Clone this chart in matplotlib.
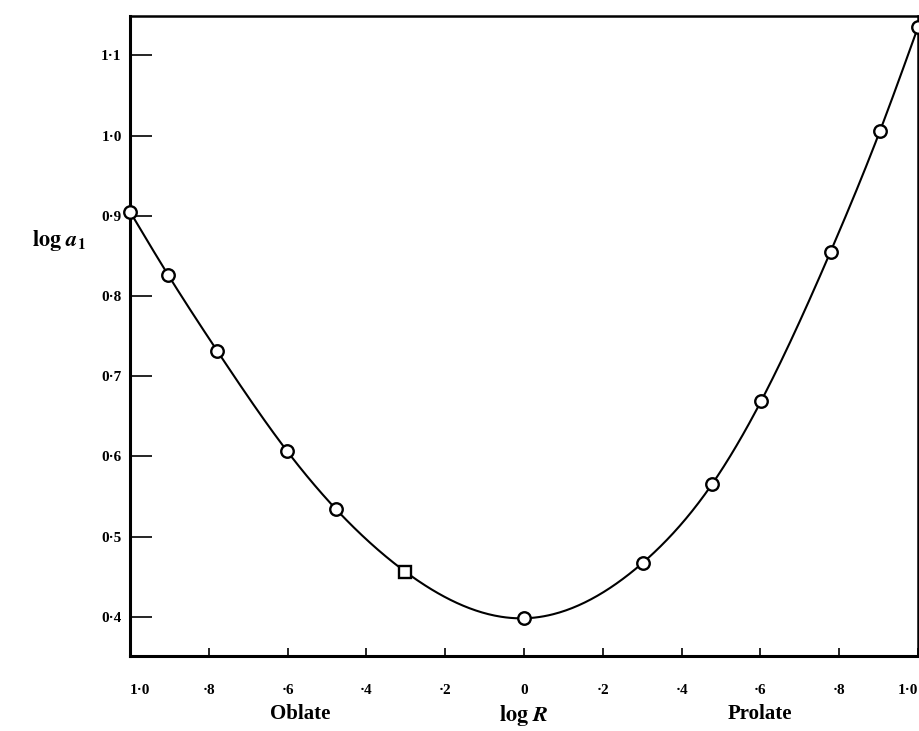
#!/usr/bin/env python3
"""
Axial ratio curve: log a1 against log R for oblate and prolate ellipsoids.
"""

import numpy as np
import matplotlib.pyplot as plt

# ============================================================================
# DATA
# ============================================================================

LOG_R = [-1.0, -0.903, -0.778, -0.602, -0.477, -0.301, 0.0,
         0.301, 0.477, 0.602, 0.778, 0.903, 1.0]
LOG_A1 = [0.905, 0.826, 0.731, 0.607, 0.534, 0.456, 0.398,
          0.467, 0.565, 0.669, 0.855, 1.005, 1.135]
SQUARE_IDX = [5]  # the one point plotted with a square symbol

X_TICKS = [-1.0, -0.8, -0.6, -0.4, -0.2, 0.0, 0.2, 0.4, 0.6, 0.8, 1.0]
X_TICK_LABELS = ['1·0', '·8', '·6', '·4', '·2', '0', '·2', '·4', '·6', '·8', '1·0']
Y_TICKS = [0.4, 0.5, 0.6, 0.7, 0.8, 0.9, 1.0, 1.1]
Y_TICK_LABELS = ['0·4', '0·5', '0·6', '0·7', '0·8', '0·9', '1·0', '1·1']


def natural_spline(x, y, n=500):
    """Natural cubic spline through (x, y), evaluated on n points."""
    x = np.asarray(x, float)
    y = np.asarray(y, float)
    m = len(x)
    h = np.diff(x)
    A = np.zeros((m, m))
    b = np.zeros(m)
    A[0, 0] = A[-1, -1] = 1.0
    for i in range(1, m - 1):
        A[i, i - 1] = h[i - 1]
        A[i, i] = 2 * (h[i - 1] + h[i])
        A[i, i + 1] = h[i]
        b[i] = 3 * ((y[i + 1] - y[i]) / h[i] - (y[i] - y[i - 1]) / h[i - 1])
    c = np.linalg.solve(A, b)
    bb = (y[1:] - y[:-1]) / h - h * (2 * c[:-1] + c[1:]) / 3
    d = (c[1:] - c[:-1]) / (3 * h)

    xs = np.linspace(x[0], x[-1], n)
    k = np.clip(np.searchsorted(x, xs) - 1, 0, m - 2)
    t = xs - x[k]
    ys = y[k] + bb[k] * t + c[k] * t ** 2 + d[k] * t ** 3
    return xs, ys


def main():
    plt.rcParams['font.family'] = ['Liberation Serif', 'DejaVu Serif']
    plt.rcParams['mathtext.fontset'] = 'stix'

    fig = plt.figure(figsize=(9.2, 7.31), dpi=100)
    ax = fig.add_axes([0.1413, 0.1026, 0.8565, 0.8755])

    # smooth curve, then the measured points on top
    xs, ys = natural_spline(LOG_R, LOG_A1)
    ax.plot(xs, ys, color='black', lw=1.5, zorder=2, clip_on=False)

    circ = [i for i in range(len(LOG_R)) if i not in SQUARE_IDX]
    ax.plot([LOG_R[i] for i in circ], [LOG_A1[i] for i in circ], 'o',
            ms=9, mfc='white', mec='black', mew=1.7, zorder=3, clip_on=False)
    ax.plot([LOG_R[i] for i in SQUARE_IDX], [LOG_A1[i] for i in SQUARE_IDX], 's',
            ms=8.5, mfc='white', mec='black', mew=1.7, zorder=3, clip_on=False)

    ax.set_xlim(-1.0, 1.0)
    ax.set_ylim(0.351, 1.149)

    ax.set_xticks(X_TICKS)
    ax.set_xticklabels(X_TICK_LABELS, fontsize=11, fontweight='bold')
    ax.set_yticks(Y_TICKS)
    ax.set_yticklabels(Y_TICK_LABELS, fontsize=11, fontweight='bold')
    ax.tick_params(axis='x', direction='in', length=6, width=1.2, pad=20)
    ax.tick_params(axis='y', direction='in', length=16, width=1.2, pad=6)

    # end labels sit inside the figure edge
    xlabels = ax.get_xticklabels()
    xlabels[-1].set_horizontalalignment('right')
    xlabels[0].set_horizontalalignment('left')
    xlabels[0].set_x(-1.0)

    for side in ['left', 'bottom']:
        ax.spines[side].set_linewidth(2.2)
    for side in ['top', 'right']:
        ax.spines[side].set_linewidth(1.8)

    ax.set_ylabel(r'$\mathbf{log}\ \boldsymbol{a}_{\mathbf{1}}$', fontsize=16,
                  rotation=0)
    ax.yaxis.set_label_coords(-0.09, 0.63)

    trans = ax.get_xaxis_transform()
    ax.text(-0.569, -0.09, 'Oblate', transform=trans, ha='center', va='center',
            fontsize=15, fontweight='bold')
    ax.text(0.0, -0.093, r'$\mathbf{log}\ \boldsymbol{R}$', transform=trans,
            ha='center', va='center', fontsize=16)
    ax.text(0.599, -0.09, 'Prolate', transform=trans, ha='center', va='center',
            fontsize=15, fontweight='bold')

    plt.savefig('out.png', dpi=100)


if __name__ == '__main__':
    main()
